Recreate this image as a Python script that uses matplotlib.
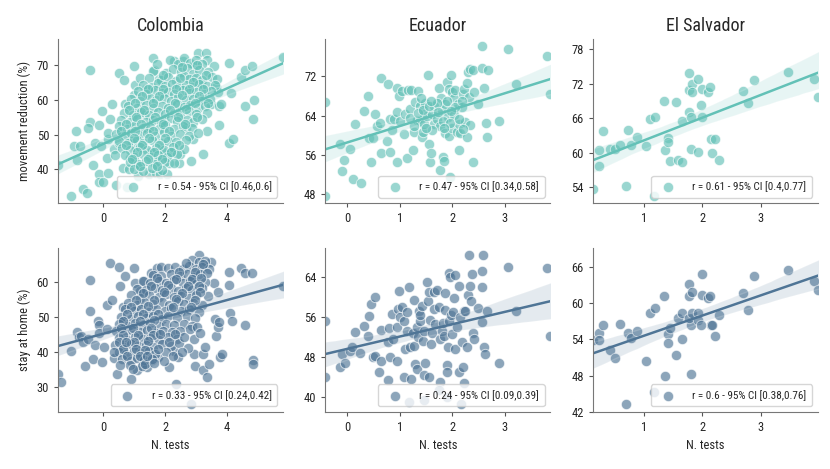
import numpy as np
import matplotlib
matplotlib.use('Agg')
import matplotlib.pyplot as plt
import seaborn as sns

sns.set_style('ticks')
plt.rcParams['font.family'] = ['Roboto Condensed', 'Liberation Sans Narrow', 'Roboto', 'DejaVu Sans']

TEAL = '#63c1b7'
SLATE = '#4f7596'

countries = ['Colombia', 'Ecuador', 'El Salvador']
row_labels = ['movement reduction (%)', 'stay at home (%)']
legend_top = ['r = 0.54 - 95% CI [0.46,0.6]', 'r = 0.47 - 95% CI [0.34,0.58]', 'r = 0.61 - 95% CI [0.4,0.77]']
legend_bot = ['r = 0.33 - 95% CI [0.24,0.42]', 'r = 0.24 - 95% CI [0.09,0.39]', 'r = 0.6 - 95% CI [0.38,0.76]']
xticks = [[0, 2, 4], [0, 1, 2, 3], [1, 2, 3]]
yticks_top = [[40, 50, 60, 70], [48, 56, 64, 72], [54, 60, 66, 72, 78]]
yticks_bot = [[30, 40, 50, 60], [40, 48, 56, 64], [42, 48, 54, 60, 66]]

# (N. tests, movement reduction) - Colombia
col_move = [
    (-1.45, 41.4), (-1.04, 32.5), (-0.87, 50.9), (-0.93, 46.8), (-0.74, 46.8), (-0.85, 42.7),
    (-0.63, 34.5), (-0.52, 33.2), (-0.43, 68.6), (-0.43, 53.6), (-0.47, 51.8), (-0.33, 41.4),
    (-0.27, 47.7), (-0.13, 52.7), (-0.07, 46.8), (-0.13, 38.8), (-0.12, 36.4), (0.0, 36.4),
    (-0.03, 56.6), (0.13, 43.4), (0.15, 48.6), (0.18, 50.5), (0.24, 54.5), (0.30, 58.6),
    (0.16, 39.1), (0.35, 45.9), (0.40, 44.1), (0.43, 35.5), (0.53, 67.7), (0.53, 47.7),
    (0.59, 51.4), (0.65, 40.5), (0.69, 65.5), (0.73, 58.6), (0.78, 35.0), (0.83, 40.0),
    (0.87, 43.2), (0.94, 48.2), (1.00, 69.5), (1.00, 61.4), (1.05, 64.1), (1.08, 45.9),
    (1.13, 38.2), (1.19, 41.4), (1.21, 66.1), (1.32, 55.9), (1.39, 62.9), (1.43, 51.4),
    (1.49, 38.6), (1.54, 45.0), (1.63, 71.8), (1.65, 68.6), (1.71, 39.1), (1.76, 42.3),
    (1.81, 65.9), (1.84, 38.6), (1.93, 45.0), (1.97, 54.1), (2.08, 38.8), (2.14, 41.8),
    (2.21, 45.0), (2.30, 70.9), (2.46, 41.8), (2.49, 44.5), (2.58, 70.9), (2.68, 51.8),
    (2.84, 42.3), (2.91, 48.6), (2.95, 70.0), (3.08, 73.2), (3.17, 64.1), (3.24, 44.3),
    (3.33, 73.2), (3.36, 71.4), (3.38, 50.9), (3.49, 58.6), (3.60, 69.5), (3.65, 63.6),
    (3.71, 62.3), (3.76, 58.2), (3.76, 52.7), (3.81, 58.6), (4.08, 70.5), (4.08, 47.7),
    (4.14, 61.8), (4.20, 48.8), (4.48, 66.4), (4.60, 68.6), (4.60, 58.2), (4.82, 69.7),
    (4.85, 54.5), (4.88, 60.0), (5.82, 72.3),
    (2.18, 71.2), (2.42, 70.3), (2.63, 71.8), (2.81, 70.6), (3.02, 71.4), (3.21, 70.1),
    (1.62, 68.3), (2.03, 67.6), (2.28, 68.7), (2.52, 67.9), (2.71, 68.9), (2.92, 67.4), (3.12, 68.5), (3.41, 67.8),
    (1.48, 66.2), (1.88, 65.7), (2.11, 66.5), (2.38, 65.4), (2.61, 66.8), (2.79, 65.9), (3.01, 66.3), (3.22, 65.6),
    (3.52, 66.4), (3.69, 65.8),
    (1.31, 64.3), (1.58, 63.6), (1.79, 64.7), (2.02, 63.8), (2.23, 64.5), (2.47, 63.5), (2.68, 64.2), (2.88, 63.7),
    (3.11, 64.6), (3.38, 63.9), (3.62, 64.1),
    (1.12, 62.4), (1.41, 61.7), (1.69, 62.6), (1.91, 61.8), (2.09, 62.3), (2.31, 61.5), (2.58, 62.7), (2.79, 61.9),
    (3.02, 62.2), (3.28, 61.6), (3.49, 62.5),
    (0.92, 60.2), (1.19, 59.6), (1.52, 60.5), (1.71, 59.8), (1.98, 60.4), (2.21, 59.5), (2.42, 60.7), (2.69, 59.9),
    (2.91, 60.3), (3.18, 59.7), (3.47, 60.1),
    (0.81, 58.3), (1.09, 57.7), (1.38, 58.5), (1.61, 57.6), (1.92, 58.2), (2.12, 57.5), (2.39, 58.6), (2.62, 57.8),
    (2.83, 58.4), (3.09, 57.6), (3.31, 58.1),
    (0.69, 56.2), (0.98, 55.6), (1.22, 56.4), (1.49, 55.7), (1.78, 56.5), (2.01, 55.8), (2.29, 56.3), (2.51, 55.5),
    (2.78, 56.6), (3.02, 55.9), (3.38, 56.2),
    (0.58, 54.1), (0.88, 53.6), (1.11, 54.5), (1.39, 53.7), (1.62, 54.3), (1.88, 53.5), (2.19, 54.6), (2.41, 53.8),
    (2.72, 54.2), (2.92, 53.6), (3.19, 54.4),
    (0.52, 52.3), (0.79, 51.6), (1.02, 52.5), (1.29, 51.8), (1.51, 52.2), (1.81, 51.5), (2.02, 52.6), (2.31, 51.7),
    (2.58, 52.4), (2.88, 51.9),
    (0.41, 50.2), (0.71, 49.6), (0.92, 50.5), (1.18, 49.8), (1.42, 50.3), (1.69, 49.5), (1.98, 50.6), (2.21, 49.7),
    (2.49, 50.1), (2.79, 49.6), (3.08, 50.4),
    (0.52, 48.1), (0.81, 47.6), (1.09, 48.4), (1.31, 47.7), (1.59, 48.3), (1.88, 47.5), (2.11, 48.2), (2.38, 47.8),
    (2.68, 48.5),
    (0.62, 46.2), (0.89, 45.7), (1.19, 46.4), (1.42, 45.6), (1.71, 46.1), (1.99, 45.5), (2.28, 46.3), (2.61, 45.8),
    (0.72, 44.1), (1.01, 43.6), (1.29, 44.4), (1.52, 43.7), (1.79, 44.2), (2.08, 43.5), (2.39, 44.3),
    (0.88, 42.2), (1.12, 41.7), (1.41, 42.4), (1.68, 41.6), (2.01, 42.1), (2.29, 41.8),
    (1.02, 40.1), (1.31, 39.6), (1.58, 40.4), (1.91, 39.8),
    (1.75, 70.2), (2.55, 69.4), (3.05, 69.8), (1.95, 66.9), (2.48, 66.1), (2.92, 65.0), (3.32, 66.9),
    (1.45, 63.1), (1.95, 63.0), (2.35, 62.9), (2.78, 63.1), (3.25, 63.0), (1.25, 61.0), (1.82, 60.9),
    (2.55, 61.2), (3.12, 61.0), (1.05, 59.0), (1.62, 59.1), (2.32, 58.9), (2.98, 59.0), (3.40, 58.9),
    (0.85, 57.0), (1.32, 57.1), (2.18, 57.0), (2.70, 57.2), (1.08, 55.1), (1.68, 55.0), (2.42, 54.9),
    (3.05, 55.0), (0.75, 53.0), (1.22, 52.9), (1.95, 53.0), (2.65, 53.1), (0.60, 51.0), (1.05, 51.1),
    (1.62, 51.0), (2.15, 50.9), (1.00, 49.0), (1.50, 49.1), (2.00, 48.9), (0.75, 47.0), (1.25, 46.9),
    (1.82, 47.0), (2.45, 47.1), (1.10, 45.0), (1.65, 45.1), (2.20, 45.0), (0.95, 43.0), (1.45, 42.9),
    (1.90, 43.0), (1.20, 40.9), (1.75, 41.0),
]

# (N. tests, stay at home) - Colombia
col_home = [
    (-1.47, 33.8), (-1.37, 31.6), (-1.06, 40.5), (-0.87, 45.9), (-0.79, 44.4), (-0.74, 44.7),
    (-0.65, 42.8), (-0.61, 36.2), (-0.43, 60.7), (-0.43, 51.8), (-0.50, 43.8), (-0.33, 38.2),
    (-0.26, 42.2), (-0.17, 48.9), (-0.13, 47.8), (-0.13, 45.4), (-0.04, 37.2), (0.02, 41.4),
    (0.11, 46.6), (0.13, 53.6), (0.21, 65.3), (0.29, 55.0), (0.35, 38.4), (0.43, 33.7),
    (0.51, 64.4), (0.54, 58.8), (0.59, 48.9), (0.65, 52.9), (0.69, 61.6), (0.89, 32.3),
    (1.00, 63.9), (1.02, 59.7), (1.08, 35.1), (1.19, 57.4), (1.27, 37.2), (1.32, 60.2),
    (1.43, 35.8), (1.54, 62.5), (1.59, 37.7), (1.73, 63.9), (1.86, 64.4), (1.76, 38.8),
    (2.08, 63.9), (2.14, 35.8), (2.30, 40.5), (2.35, 31.1), (2.41, 38.6), (3.11, 67.7),
    (2.84, 25.2), (2.93, 43.8), (2.95, 39.6), (2.97, 36.1), (3.22, 39.6), (3.22, 34.9),
    (3.30, 41.6), (3.35, 33.0), (3.44, 36.6), (3.49, 65.8), (3.60, 59.7), (3.63, 49.4),
    (3.66, 44.7), (3.71, 47.3), (3.73, 57.2), (3.76, 48.5), (3.79, 38.6), (3.84, 39.6),
    (4.08, 62.8), (4.08, 59.2), (4.12, 51.3), (4.18, 48.9), (4.48, 63.9), (4.60, 62.5),
    (4.60, 47.8), (4.82, 62.5), (4.85, 37.7), (4.85, 36.8), (5.82, 58.8),
    (2.88, 66.3), (3.09, 65.6), (3.31, 66.0),
    (2.31, 64.2), (2.58, 63.6), (2.79, 64.5), (3.02, 63.8), (3.19, 64.4), (3.42, 63.7),
    (1.61, 62.1), (1.88, 61.6), (2.19, 62.4), (2.48, 61.7), (2.71, 62.3), (2.92, 61.5), (3.12, 62.2),
    (1.28, 60.2), (1.52, 59.6), (1.79, 60.4), (2.02, 59.8), (2.29, 60.5), (2.58, 59.7), (2.81, 60.3), (3.02, 59.5),
    (3.31, 60.1),
    (1.09, 58.1), (1.38, 57.6), (1.69, 58.4), (1.91, 57.8), (2.18, 58.3), (2.42, 57.5), (2.69, 58.2), (2.88, 57.7),
    (3.21, 58.4),
    (0.91, 56.2), (1.19, 55.6), (1.48, 56.4), (1.81, 55.8), (2.02, 56.5), (2.29, 55.7), (2.52, 56.1), (2.79, 55.5),
    (3.01, 56.3), (3.38, 55.9),
    (0.79, 54.1), (1.08, 53.6), (1.31, 54.4), (1.61, 53.7), (1.89, 54.2), (2.12, 53.5), (2.41, 54.5), (2.62, 53.8),
    (2.91, 54.1), (3.19, 53.6),
    (0.69, 52.2), (0.98, 51.7), (1.21, 52.4), (1.49, 51.6), (1.72, 52.3), (2.01, 51.8), (2.19, 52.5), (2.51, 51.7),
    (2.78, 52.2), (3.09, 51.6),
    (0.58, 50.1), (0.88, 49.6), (1.12, 50.4), (1.39, 49.7), (1.62, 50.2), (1.91, 49.5), (2.09, 50.3), (2.38, 49.8),
    (2.71, 50.4), (2.98, 49.7),
    (0.49, 48.2), (0.79, 47.6), (1.02, 48.4), (1.28, 47.7), (1.51, 48.3), (1.79, 47.5), (2.02, 48.1), (2.29, 47.8),
    (2.61, 48.2), (2.88, 47.6),
    (0.42, 46.1), (0.69, 45.6), (0.92, 46.4), (1.18, 45.7), (1.41, 46.3), (1.71, 45.5), (1.92, 46.2), (2.21, 45.8),
    (2.49, 46.1),
    (0.51, 44.2), (0.78, 43.6), (1.01, 44.4), (1.29, 43.7), (1.52, 44.1), (1.81, 43.5), (2.09, 44.3), (2.38, 43.8),
    (0.38, 42.1), (0.62, 41.6), (0.88, 42.4), (1.12, 41.7), (1.39, 42.2), (1.61, 41.5), (1.89, 42.3), (2.19, 41.8),
    (0.49, 40.2), (0.72, 39.6), (0.98, 40.4), (1.21, 39.7), (1.48, 40.3), (1.69, 39.5), (2.02, 40.1),
    (0.61, 38.1), (0.89, 37.6), (1.09, 38.4), (1.32, 37.7), (1.59, 38.2),
    (2.68, 65.3), (3.22, 65.0), (2.45, 63.0), (2.98, 62.9), (3.35, 62.6), (1.75, 61.1), (2.35, 61.0),
    (2.88, 60.9), (3.18, 61.2), (1.55, 59.0), (2.10, 59.1), (2.75, 59.0), (3.10, 58.9), (1.30, 57.0),
    (1.95, 57.1), (2.55, 57.0), (3.12, 57.2), (1.05, 55.0), (1.65, 54.9), (2.35, 55.1), (2.98, 54.9),
    (0.90, 53.0), (1.45, 53.1), (2.25, 52.9), (2.85, 53.0), (0.75, 51.0), (1.28, 50.9), (1.78, 51.0),
    (0.65, 49.0), (1.18, 48.9), (1.65, 49.1), (0.58, 47.0), (0.95, 46.9), (1.55, 47.0), (0.65, 44.9),
    (1.12, 45.0), (1.62, 44.9), (0.52, 43.0), (0.98, 42.9), (1.45, 43.1), (0.62, 40.9), (1.05, 41.0),
    (1.35, 40.8), (0.75, 38.9), (1.18, 39.0), (0.85, 36.5), (1.25, 36.2),
    (1.35, 36.8), (1.65, 36.9), (1.95, 37.5), (0.55, 36.4), (2.25, 38.9), (2.45, 42.6), (2.62, 44.4),
    (2.82, 46.5), (3.05, 47.1), (2.75, 41.2), (0.35, 40.0), (0.95, 35.2), (1.78, 40.9), (2.12, 42.8),
    (1.42, 38.9), (2.55, 40.1), (2.32, 45.2), (3.15, 45.5), (0.72, 42.9), (1.85, 45.1),
]

# (N. tests, movement reduction) - Ecuador
ecu_move = [
    (-0.41, 66.7), (-0.41, 47.7), (-0.13, 58.2), (-0.09, 52.8), (-0.06, 55.0), (0.05, 57.2),
    (0.11, 51.1), (0.16, 62.3), (0.27, 50.2), (0.33, 64.9), (0.39, 68.1), (0.42, 59.5),
    (0.46, 54.6), (0.49, 59.5), (0.54, 64.4), (0.57, 61.9), (0.62, 62.5), (0.65, 71.7),
    (0.65, 56.3), (0.76, 58.8), (0.77, 70.5), (0.81, 63.4), (0.82, 56.7), (0.85, 61.0),
    (0.90, 63.3), (0.94, 69.7), (0.95, 54.6), (0.95, 64.8), (0.98, 67.9), (1.04, 69.0),
    (1.01, 62.9), (1.09, 60.2), (1.11, 64.3), (1.13, 55.3), (1.16, 69.2), (1.19, 65.4),
    (1.22, 69.3), (1.25, 57.0), (1.27, 60.7), (1.29, 66.7), (1.32, 63.1), (1.34, 69.0),
    (1.38, 65.9), (1.39, 62.9), (1.42, 59.7), (1.44, 60.7), (1.46, 64.4), (1.47, 62.4),
    (1.49, 66.5), (1.52, 63.9), (1.54, 72.2), (1.56, 58.3), (1.57, 54.6), (1.59, 56.3),
    (1.61, 64.4), (1.65, 65.9), (1.66, 62.3), (1.71, 63.4), (1.75, 69.7), (1.76, 61.9),
    (1.76, 52.9), (1.78, 67.5), (1.80, 65.1), (1.83, 55.6), (1.84, 54.8), (1.87, 66.3),
    (1.87, 60.4), (1.89, 70.9), (1.91, 63.8), (1.93, 59.8), (1.94, 69.5), (1.96, 51.6),
    (1.97, 72.2), (1.99, 68.8), (2.00, 61.5), (2.03, 67.5), (2.04, 64.1), (2.05, 69.2),
    (2.08, 60.7), (2.10, 66.3), (2.12, 57.1), (2.13, 62.3), (2.15, 60.4), (2.18, 65.8),
    (2.20, 68.5), (2.23, 69.5), (2.25, 62.7), (2.28, 70.6), (2.28, 59.6), (2.29, 72.9),
    (2.32, 67.8), (2.33, 73.4), (2.34, 62.1), (2.39, 73.2), (2.39, 54.6), (2.42, 68.8),
    (2.49, 66.3), (2.56, 78.1), (2.56, 73.6), (2.61, 69.7), (2.65, 62.5), (2.66, 59.6),
    (2.67, 73.2), (2.89, 62.9), (3.05, 77.5), (3.22, 70.4), (3.80, 76.1), (3.86, 68.4),
    (1.20, 63.5), (1.35, 64.5), (1.45, 65.2), (1.55, 66.0), (1.62, 61.0), (1.70, 66.5),
    (1.82, 63.0), (1.90, 67.0), (1.95, 62.5), (2.05, 65.8), (2.12, 63.3), (2.20, 61.2),
    (1.28, 61.8), (1.50, 61.5), (1.72, 64.8), (1.98, 65.0), (2.18, 67.0), (1.40, 67.5),
    (1.60, 67.0), (1.85, 61.5),
]

# (N. tests, stay at home) - Ecuador
ecu_home = [
    (-0.41, 55.3), (-0.41, 44.0), (-0.14, 46.0), (-0.09, 48.7), (-0.03, 46.8), (0.06, 49.3),
    (0.09, 50.0), (0.15, 53.0), (0.25, 48.9), (0.33, 54.3), (0.39, 52.3), (0.42, 56.3),
    (0.46, 58.7), (0.49, 48.1), (0.54, 60.1), (0.54, 48.3), (0.61, 45.0), (0.65, 47.3),
    (0.65, 53.5), (0.77, 43.3), (0.77, 51.0), (0.79, 53.9), (0.82, 48.0), (0.85, 56.7),
    (0.87, 51.7), (0.95, 47.3), (0.94, 54.0), (0.96, 57.7), (0.98, 61.3), (1.01, 56.0),
    (1.04, 58.1), (1.08, 44.0), (1.09, 55.2), (1.11, 49.7), (1.13, 53.3), (1.14, 57.0),
    (1.18, 62.0), (1.20, 50.0), (1.22, 43.5), (1.25, 52.8), (1.27, 50.3), (1.28, 59.5),
    (1.30, 46.7), (1.32, 45.5), (1.33, 54.0), (1.34, 52.0), (1.36, 57.3), (1.38, 55.3),
    (1.39, 56.5), (1.42, 58.3), (1.44, 51.3), (1.46, 44.3), (1.47, 53.3), (1.49, 46.8),
    (1.52, 63.0), (1.53, 59.3), (1.55, 61.0), (1.56, 44.0), (1.57, 55.5), (1.59, 50.7),
    (1.62, 52.8), (1.65, 61.0), (1.66, 57.7), (1.68, 54.7), (1.71, 61.5), (1.75, 58.1),
    (1.76, 43.0), (1.77, 51.7), (1.80, 53.3), (1.82, 54.8), (1.84, 52.3), (1.86, 57.5),
    (1.87, 60.8), (1.89, 46.3), (1.90, 45.0), (1.92, 50.0), (1.93, 55.3), (1.94, 64.8),
    (1.96, 64.1), (1.97, 56.5), (1.99, 52.7), (2.01, 57.0), (2.03, 59.9), (2.05, 64.5),
    (2.06, 49.7), (2.09, 54.1), (2.12, 45.0), (2.13, 62.3), (2.15, 56.0), (2.18, 51.0),
    (2.20, 46.0), (2.22, 57.3), (2.23, 42.7), (2.25, 57.3), (2.27, 50.0), (2.29, 60.5),
    (2.32, 68.5), (2.33, 62.3), (2.35, 59.3), (2.37, 64.7), (2.39, 52.8), (2.42, 51.7),
    (2.49, 57.9), (2.56, 65.3), (2.56, 62.1), (2.57, 55.0), (2.58, 68.5), (2.61, 50.0),
    (2.62, 48.7), (2.66, 57.2), (2.89, 46.8), (3.05, 66.0), (3.22, 57.2), (3.80, 65.9),
    (3.86, 52.3), (1.17, 39.0), (1.46, 39.3), (1.74, 41.3), (2.16, 38.5), (1.90, 40.0),
]

# (N. tests, movement reduction, stay at home) - El Salvador
salv_tests = [0.13, 0.24, 0.24, 0.30, 0.42, 0.50, 0.60, 0.69, 0.73, 0.79, 0.89, 1.03, 1.11, 1.19, 1.17, 1.34,
              1.37, 1.42, 1.42, 1.44, 1.55, 1.59, 1.66, 1.65, 1.78, 1.77, 1.80, 1.78, 1.82, 1.83, 1.80, 1.92,
              1.93, 1.97, 1.99, 1.99, 2.09, 2.14, 2.15, 2.22, 2.17, 2.28, 2.70, 2.78, 2.89, 3.46, 3.91, 3.97]
salv_move = [53.6, 57.7, 60.4, 63.8, 60.6, 60.6, 61.3, 54.2, 64.0, 61.3, 62.7, 61.1, 65.8, 66.3, 52.5, 69.0,
             60.4, 62.5, 61.8, 58.6, 68.8, 58.8, 58.4, 65.6, 73.9, 67.1, 66.3, 70.9, 72.0, 70.5, 60.6, 72.8,
             60.1, 68.4, 71.1, 66.3, 70.6, 71.5, 62.4, 62.4, 60.0, 58.7, 70.7, 68.7, 72.6, 74.0, 72.8, 69.7]
salv_home = [53.8, 55.0, 53.9, 56.4, 52.3, 50.9, 56.5, 43.3, 55.0, 54.2, 55.4, 50.4, 58.4, 59.1, 45.2, 61.2,
             47.9, 54.8, 53.3, 55.8, 51.4, 57.5, 58.3, 54.0, 63.2, 61.1, 56.3, 57.5, 61.8, 58.3, 48.2, 58.3,
             57.1, 56.4, 64.8, 61.3, 60.8, 61.1, 56.3, 54.6, 56.3, 58.0, 61.7, 58.8, 64.4, 65.5, 63.7, 62.2]

top_data = [np.array(col_move).T, np.array(ecu_move).T, np.array([salv_tests, salv_move])]
bot_data = [np.array(col_home).T, np.array(ecu_home).T, np.array([salv_tests, salv_home])]

fig, axes = plt.subplots(2, 3, figsize=(8.3, 4.69), dpi=100)
fig.subplots_adjust(left=0.07, right=0.985, top=0.917, bottom=0.122, wspace=0.19, hspace=0.27)

rows = [(top_data, TEAL, legend_top, yticks_top), (bot_data, SLATE, legend_bot, yticks_bot)]
for row, (data, color, labels, yticks) in enumerate(rows):
    for col in range(3):
        ax = axes[row, col]
        x, y = data[col]
        sns.regplot(x=x, y=y, ax=ax, color=color, truncate=False, seed=0, label=labels[col],
                    scatter_kws=dict(s=55, alpha=0.65, edgecolor='white', linewidths=0.7),
                    line_kws=dict(lw=1.8))
        ax.set_xlim(x.min(), x.max())
        ax.set_xticks(xticks[col])
        ax.set_yticks(yticks[col])
        ax.tick_params(labelsize=9, length=3, color='#555555')
        for s in ['left', 'bottom']:
            ax.spines[s].set_color('#777777')
        sns.despine(ax=ax)
        leg = ax.legend(loc='lower right', fontsize=8, frameon=True, handletextpad=1.2,
                        borderpad=0.5)
        leg.get_frame().set_edgecolor('#cccccc')
        if row == 0:
            ax.set_title(countries[col], fontsize=13)
        else:
            ax.set_xlabel('N. tests', fontsize=9)
    axes[row, 0].set_ylabel(row_labels[row], fontsize=9)

fig.savefig('out.png', dpi=100)
